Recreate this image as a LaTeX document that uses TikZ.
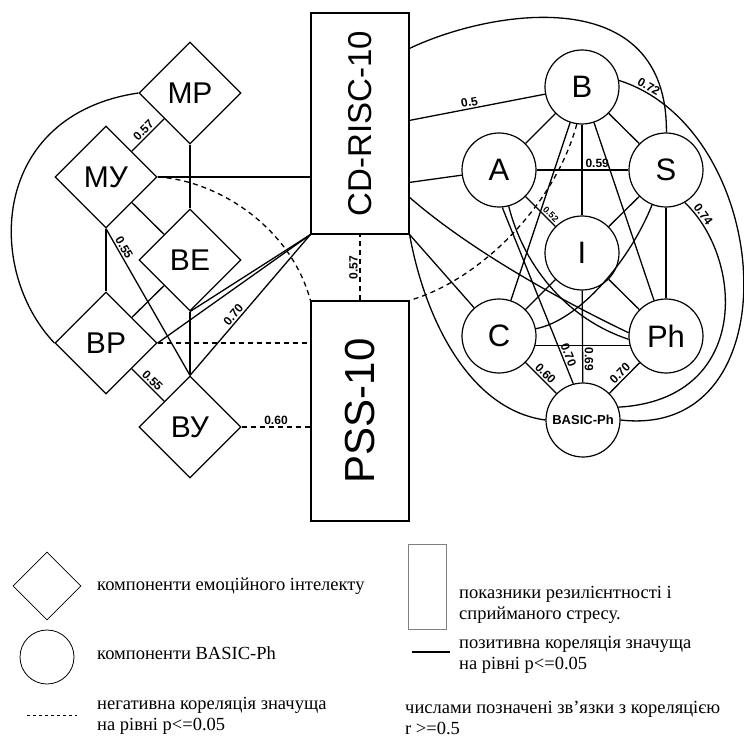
\documentclass[tikz,border=0pt]{standalone}
\usepackage{fontspec}
\setmainfont{Liberation Serif}
\setsansfont{Liberation Sans}
\usetikzlibrary{shapes.geometric}
\tikzset{
  ei/.style={diamond, draw, line width=1.2pt, fill=white, minimum width=102pt, minimum height=102pt, inner sep=0pt, font=\sffamily\fontsize{30}{30}\selectfont},
  bp/.style={circle, draw, line width=1.2pt, fill=white, minimum size=74pt, inner sep=0pt, font=\sffamily\fontsize{31}{31}\selectfont},
  metric/.style={rectangle, draw, line width=1.2pt, fill=white, minimum width=98pt, inner sep=0pt},
  poscor/.style={line width=1.3pt},
  negcor/.style={line width=1.3pt, dash pattern=on 5pt off 4pt},
  corr/.style={font=\sffamily\bfseries\fontsize{12}{12}\selectfont, sloped, above, inner sep=1.5pt},
  leg/.style={anchor=west, align=left, font=\fontsize{18.5}{21}\selectfont, inner sep=0pt}
}
\begin{document}
\begin{tikzpicture}[x=1pt, y=-1pt]
\useasboundingbox (0, 0) rectangle (744, 738);
\node[ei] at (190, 93) (MR) {МР};
\node[ei] at (106, 177) (MU) {МУ};
\node[ei] at (190, 260) (VE) {ВЕ};
\node[ei] at (106, 343) (VR) {ВР};
\node[ei] at (190, 427) (VU) {ВУ};
\node[metric, minimum height=221pt, font=\sffamily\fontsize{33}{33}\selectfont] at (360, 123.5) (CD) {\rotatebox{90}{CD-RISC-10}};
\node[metric, minimum height=220pt, font=\sffamily\fontsize{42}{42}\selectfont] at (360, 411) (PSS) {\rotatebox{90}{PSS-10}};
\node[bp] at (582, 87) (B) {B};
\node[bp] at (499, 170) (A) {A};
\node[bp] at (666, 170) (S) {S};
\node[bp] at (582, 253) (I) {I};
\node[bp] at (499, 336) (C) {C};
\node[bp] at (666, 336) (Ph) {Ph};
\node[bp, font=\sffamily\bfseries\fontsize{13}{13}\selectfont] at (583, 420) (BPh) {BASIC-Ph};

\draw[poscor] (MR) -- node[corr]{0.57} (MU);
\draw[poscor] (MR.west) .. controls (-10, 115) and (-15, 270) .. (VR.west);
\draw[poscor] (MU.south) -- (VR.north);
\draw[poscor] (MR.south) -- (VE.north);
\draw[poscor] (MU.east) -- (MU.east -| CD.west);
\draw[poscor] (MU) -- (VE);
\draw[poscor] (MU.south) -- node[corr, pos=0.15]{0.55} (VU.north);
\draw[poscor] (VE.south) -- (VU.north);
\draw[poscor] (VE.south) -- (CD.south west);
\draw[poscor] (VR.east) -- (CD.south west);
\draw[poscor] (VU.north) -- node[corr, pos=0.4]{0.70} (CD.south west);
\draw[poscor] (VR) -- (VE);
\draw[poscor] (VR) -- node[corr]{0.55} (VU);
\draw[negcor] (VR.east) -- (VR.east -| PSS.west);
\draw[negcor] (VU.east) -- node[corr]{0.60} (VU.east -| PSS.west);
\draw[negcor] (MU.east) .. controls (215, 180) and (290, 225) .. (PSS.north west);
\draw[negcor] (PSS.north) -- node[corr]{0.57} (CD.south);

\draw[poscor] ([yshift=-36pt]CD.north east) .. controls (490, 10) and (668, -20) .. (S);
\draw[poscor] ([yshift=-108pt]CD.north east) -- node[corr, pos=0.45]{0.5} (B);
\draw[poscor] ([yshift=-170pt]CD.north east) -- (A);
\draw[poscor] ([yshift=-185pt]CD.north east) .. controls (470, 250) and (560, 300) .. (Ph.175);
\draw[poscor] (CD.south east) -- (C);
\draw[poscor] (CD.south east) .. controls (425, 320) and (470, 410) .. (BPh.west);
\draw[negcor] (B.262) .. controls (555, 205) and (480, 280) .. (PSS.north east);
\draw[poscor] (A) -- (B);
\draw[poscor] (B) -- (S);
\draw[poscor] (B) -- (I);
\draw[poscor] (B) -- (C);
\draw[poscor] (B) -- (Ph);
\draw[poscor] (A) -- node[corr, pos=0.66]{0.59} (S);
\draw[poscor] (A) -- node[corr, pos=0.72, font=\sffamily\bfseries\fontsize{9}{9}\selectfont]{0.52} (I);
\draw[poscor] (S) -- (I);
\draw[poscor] (S) -- (Ph);
\draw[poscor] (S) .. controls (630, 260) and (580, 320) .. (C);
\draw[poscor] (C) -- (I);
\draw[poscor] (C.-15) -- (Ph.195);
\draw[poscor] (C) -- node[corr]{0.60} (BPh);
\draw[poscor] (I) -- node[corr, pos=0.75]{0.69} (BPh);
\draw[poscor] (I) -- (Ph);
\draw[poscor] (Ph) -- node[corr]{0.70} (BPh);
\draw[poscor] (A.-85) -- node[corr, pos=0.85]{0.70} (BPh.105);
\draw[poscor] (A.-75) .. controls (525, 270) and (570, 320) .. (Ph.185);
\draw[poscor] (S.-60) .. controls (745, 260) and (750, 400) .. node[corr, pos=0.08]{0.74} (BPh.20);
\draw[poscor] (B.10) .. controls (775, 130) and (795, 440) .. node[corr, pos=0.06]{0.72} (BPh.east);

\node[ei, minimum width=68pt, minimum height=68pt, line width=0.8pt] at (47, 586) (kd) {};
\node[leg] at (97, 586) (kdt) {компоненти емоційного інтелекту};
\node[bp, minimum size=54pt, line width=0.8pt] at (47, 657) (kc) {};
\node[leg] at (97, 653) (kct) {компоненти BASIC-Ph};
\coordinate (n1) at (27, 715);
\coordinate (n2) at (77, 715);
\draw[negcor, dash pattern=on 3pt off 3pt, line width=1pt] (n1) -- (n2);
\node[leg] at (97, 716) (knt) {негативна кореляція значуща\\на рівні p<=0.05};
\node[draw=gray, line width=0.8pt, minimum width=38pt, minimum height=85pt, inner sep=0pt] at (427, 586.5) (kr) {};
\node[leg] at (459, 605) (krt) {показники резилієнтності і\\сприйманого стресу.};
\coordinate (p1) at (412, 652);
\coordinate (p2) at (450, 652);
\draw[line width=2pt] (p1) -- (p2);
\node[leg] at (459, 655) (kpt) {позитивна кореляція значуща\\на рівні p<=0.05};
\node[leg] at (405, 718) (kzt) {числами позначені зв’язки з кореляцією\\r >=0.5};
\end{tikzpicture}
\end{document}
